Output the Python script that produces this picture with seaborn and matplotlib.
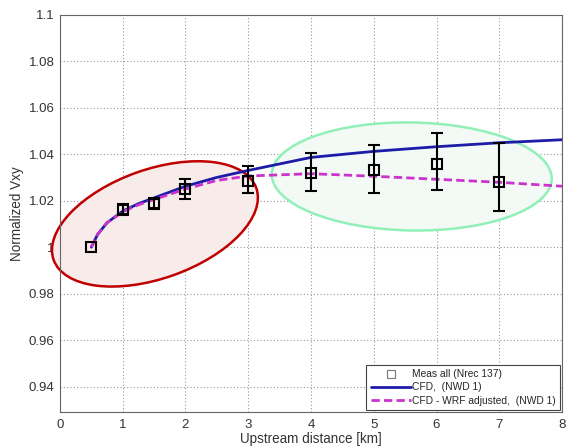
import matplotlib
matplotlib.use("Agg")
import matplotlib.pyplot as plt
import matplotlib.transforms as mtransforms
from matplotlib.patches import Ellipse
import seaborn as sns
import pandas as pd
import numpy as np

# measured points with asymmetric error bars
meas_x = [0.5, 1, 1.5, 2, 3, 4, 5, 6, 7]
meas_y = [1.0, 1.0162, 1.0188, 1.0248, 1.0285, 1.0318, 1.0332, 1.0356, 1.0281]
meas_lo = [0.9998, 1.0140, 1.0165, 1.0208, 1.0232, 1.0240, 1.0232, 1.0245, 1.0154]
meas_hi = [1.0002, 1.0182, 1.0205, 1.0295, 1.0350, 1.0405, 1.0440, 1.0490, 1.0450]

# model curves
curve_x = [0.5, 0.6, 0.75, 1.0, 1.25, 1.5, 2.0, 2.5, 3.0, 4.0, 5.0, 6.0, 7.0, 8.0]
cfd_y = [1.0, 1.0055, 1.0105, 1.0155, 1.0187, 1.0212, 1.0262, 1.0300, 1.0330,
         1.0386, 1.0412, 1.0432, 1.0449, 1.0462]
wrf_y = [1.0, 1.0055, 1.0105, 1.0152, 1.0182, 1.0205, 1.0250, 1.0287, 1.0306,
         1.0316, 1.0305, 1.0292, 1.0279, 1.0262]

x_ticks = [0, 1, 2, 3, 4, 5, 6, 7, 8]
y_ticks = [0.94, 0.96, 0.98, 1.0, 1.02, 1.04, 1.06, 1.08, 1.1]
y_ticklabels = ["0.94", "0.96", "0.98", "1", "1.02", "1.04", "1.06", "1.08", "1.1"]

sns.set_theme(style="whitegrid")
plt.rcParams['font.family'] = ['Liberation Sans', 'DejaVu Sans']

fig = plt.figure(figsize=(5.67, 4.48), dpi=100)
ax = fig.add_axes([0.1058, 0.081, 0.8854, 0.8862])

# highlight ellipses (sizes in inches, centred on data points)
def add_ellipse(cx, cy, w, h, angle, face, edge):
    tr = fig.dpi_scale_trans + mtransforms.ScaledTranslation(cx, cy, ax.transData)
    e = Ellipse((0, 0), w, h, angle=angle, transform=tr, clip_on=False,
                facecolor=face, edgecolor=edge, linewidth=1.8, zorder=1)
    ax.add_patch(e)

add_ellipse(1.513, 1.0100, 2.15, 1.09, 19.5, "#f8ecea", "#c00000")
add_ellipse(5.605, 1.0304, 2.80, 1.08, -1.0, "#f3faf5", "#90f0b8")

curves = pd.DataFrame({"x": curve_x, "cfd": cfd_y, "wrf": wrf_y})
sns.lineplot(data=curves, x="x", y="cfd", ax=ax, color="#1c1ca8", linewidth=2,
             label="CFD,  (NWD 1)", zorder=3)
sns.lineplot(data=curves, x="x", y="wrf", ax=ax, color="#cc33cc", linewidth=2,
             linestyle=(0, (3, 1.5)), label="CFD - WRF adjusted,  (NWD 1)", zorder=3)

yerr = [np.array(meas_y) - np.array(meas_lo), np.array(meas_hi) - np.array(meas_y)]
ax.errorbar(meas_x[1:], meas_y[1:], yerr=[yerr[0][1:], yerr[1][1:]], fmt="none",
            ecolor="black", elinewidth=1.5, capsize=4, capthick=1.5, zorder=4)
ax.plot(meas_x, meas_y, linestyle="none", marker="s", markersize=7,
        markerfacecolor="none", markeredgecolor="black", markeredgewidth=1.5,
        zorder=5)

# legend proxy for measurements
meas_handle = plt.Line2D([], [], linestyle="none", marker="s", markersize=6,
                         markerfacecolor="none", markeredgecolor="#777777",
                         markeredgewidth=0.8)
handles, labels = ax.get_legend_handles_labels()
leg = ax.legend([meas_handle] + handles, ["Meas all (Nrec 137)"] + labels,
                loc="lower right", fontsize=7.4, frameon=True, fancybox=False,
                edgecolor="#444444", framealpha=1, borderaxespad=0.15,
                borderpad=0.45, handlelength=3.9, handletextpad=0.1,
                labelspacing=0.3)
leg.get_frame().set_linewidth(0.8)

ax.set_xlim(0, 8)
ax.set_ylim(0.9292, 1.1)
ax.set_xticks(x_ticks)
ax.set_yticks(y_ticks)
ax.set_yticklabels(y_ticklabels)
ax.tick_params(labelsize=9.5, colors="#333333", pad=4, length=3, direction="in",
               width=0.8)
ax.tick_params(axis="x", pad=5)
ax.set_xlabel("Upstream distance [km]", fontsize=9.75, color="#333333", labelpad=1)
ax.set_ylabel("Normalized Vxy", fontsize=9.75, color="#333333", labelpad=3)

ax.grid(True, linestyle=(0, (1, 2)), color="#999999", linewidth=0.8)
ax.set_axisbelow(True)
for sp in ax.spines.values():
    sp.set_color("#666666")
    sp.set_linewidth(0.8)

fig.savefig("out.png", dpi=100)
